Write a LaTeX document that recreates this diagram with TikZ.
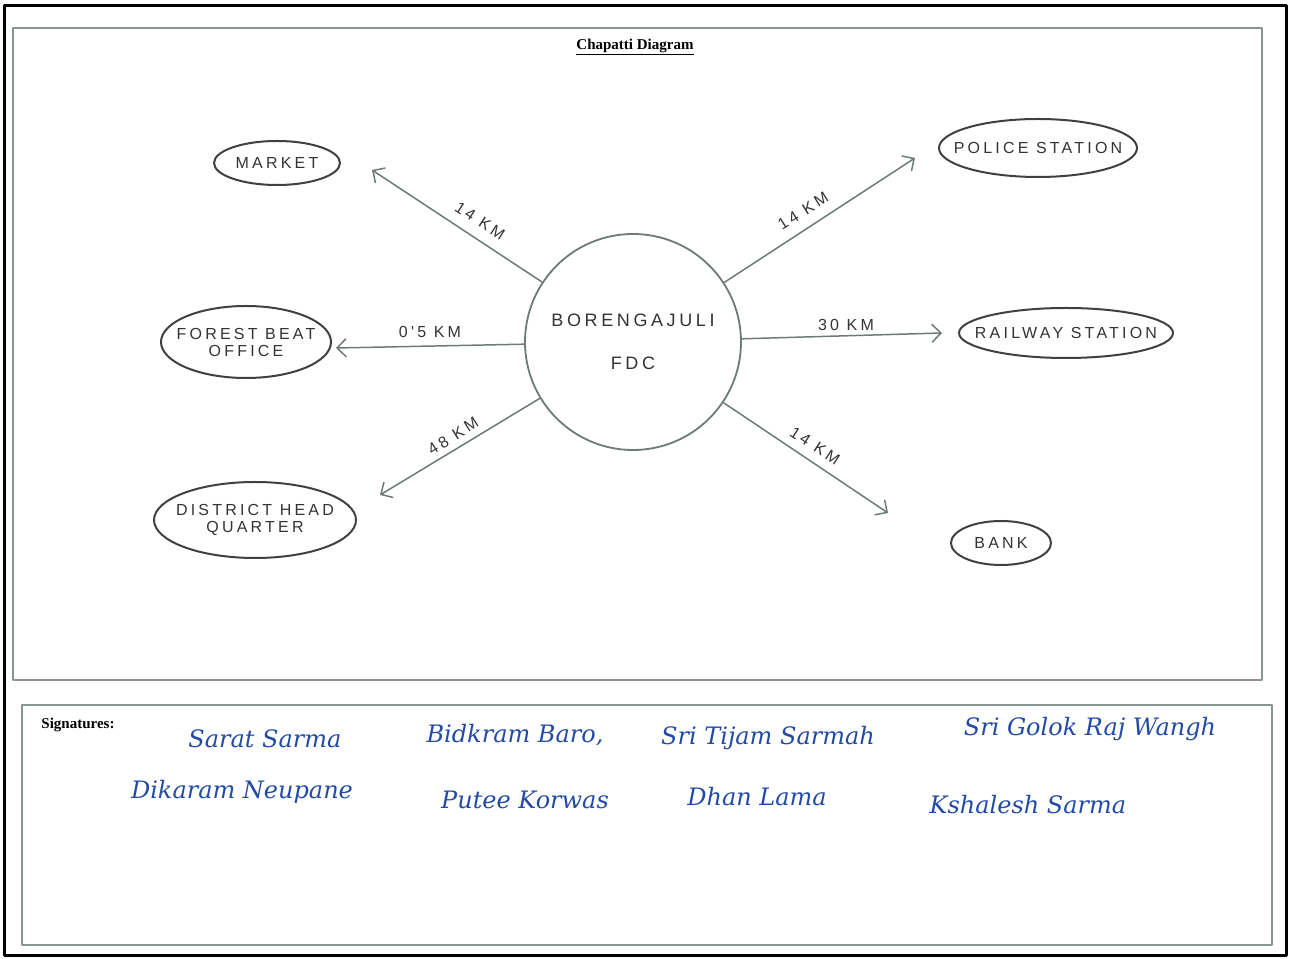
\documentclass[tikz,border=0pt]{standalone}
\usepackage{fontspec}
\setmainfont{Liberation Serif}
\newfontfamily\handfont[LetterSpace=20]{Liberation Sans}
\newfontfamily\signfont{DejaVu Serif}
\usetikzlibrary{shapes.geometric,arrows.meta}
\definecolor{pencil}{RGB}{110,122,116}
\definecolor{inkblue}{RGB}{35,75,165}
\begin{document}
\begin{tikzpicture}[>={Straight Barb[length=9bp,width=18bp]},line join=bevel,
  place/.style={ellipse,draw=black!75,line width=2bp,inner xsep=-22bp,inner ysep=0bp,align=center,text=black!80,font=\handfont\fontsize{16bp}{17bp}\selectfont},
  dist/.style={inner sep=1bp,text=black!80,font=\handfont\fontsize{16bp}{18bp}\selectfont},
  road/.style={->,draw=pencil,line width=1.5bp},
  sign/.style={inner sep=0bp,text=inkblue,font=\signfont\itshape\fontsize{24bp}{26bp}\selectfont}]
%%
\useasboundingbox (0bp,0bp) rectangle (1289bp,959bp);
\draw [black,line width=3bp] (4bp,3bp) rectangle (1286bp,953bp);
\draw [pencil!80,line width=1.5bp] (13bp,279bp) rectangle (1262bp,931bp);
\draw [pencil!80,line width=1.5bp] (22bp,14bp) rectangle (1272bp,254bp);
%
\node (node_title) at (635bp,912bp) [font=\bfseries\fontsize{15bp}{17bp}\selectfont] {\underline{Chapatti Diagram}};
  \node (node_hub) at (633bp,617bp) [circle,draw=pencil,line width=1.8bp,minimum size=216bp,inner sep=0bp,align=center,text=black!80,font=\handfont\fontsize{18bp}{20bp}\selectfont] {BORENGAJULI\\[23bp]FDC};
  \node (node_market) at (277bp,796bp) [place,minimum width=126bp,minimum height=44bp] {MARKET};
  \node (node_police) at (1038bp,811bp) [place,minimum width=198bp,minimum height=58bp] {POLICE STATION};
  \node (node_forest) at (246bp,617bp) [place,minimum width=170bp,minimum height=72bp] {FOREST BEAT\\OFFICE};
  \node (node_railway) at (1066bp,626bp) [place,minimum width=214bp,minimum height=50bp] {RAILWAY STATION};
  \node (node_district) at (255bp,439bp) [place,minimum width=202bp,minimum height=76bp] {DISTRICT HEAD\\QUARTER};
  \node (node_bank) at (1001bp,416bp) [place,minimum width=100bp,minimum height=44bp] {BANK};
%
  \coordinate (tip_market) at (372bp,789bp);
  \coordinate (tip_police) at (915bp,801bp);
  \coordinate (tip_forest) at (336bp,611bp);
  \coordinate (tip_railway) at (942bp,626bp);
  \coordinate (tip_district) at (380bp,464bp);
  \coordinate (tip_bank) at (888bp,446bp);
  \draw [road] (node_hub) -- (tip_market);
  \draw [road] (node_hub) -- (tip_police);
  \draw [road] (node_hub) -- (tip_forest);
  \draw [road] (node_hub) -- (tip_railway);
  \draw [road] (node_hub) -- (tip_district);
  \draw [road] (node_hub) -- (tip_bank);
  \node (dist_market) at (480bp,738bp) [dist,rotate=-33] {14 KM};
  \node (dist_police) at (803bp,748bp) [dist,rotate=32] {14 KM};
  \node (dist_forest) at (430bp,627bp) [dist] {0'5 KM};
  \node (dist_railway) at (846bp,634bp) [dist] {30 KM};
  \node (dist_district) at (453bp,523bp) [dist,rotate=32] {48 KM};
  \node (dist_bank) at (815bp,513bp) [dist,rotate=-33] {14 KM};
%
\node (node_sign) at (78bp,234bp) [font=\bfseries\fontsize{15bp}{17bp}\selectfont] {Signatures:};
  \node (sig_1) at (265bp,220bp) [sign] {Sarat Sarma};
  \node (sig_2) at (515bp,224bp) [sign] {Bidkram Baro,};
  \node (sig_3) at (768bp,221bp) [sign] {Sri Tijam Sarmah};
  \node (sig_4) at (1090bp,230bp) [sign] {Sri Golok Raj Wangh};
  \node (sig_5) at (242bp,167bp) [sign] {Dikaram Neupane};
  \node (sig_6) at (525bp,159bp) [sign] {Putee Korwas};
  \node (sig_7) at (757bp,162bp) [sign] {Dhan Lama};
  \node (sig_8) at (1028bp,154bp) [sign] {Kshalesh Sarma};
%
\end{tikzpicture}
\end{document}
